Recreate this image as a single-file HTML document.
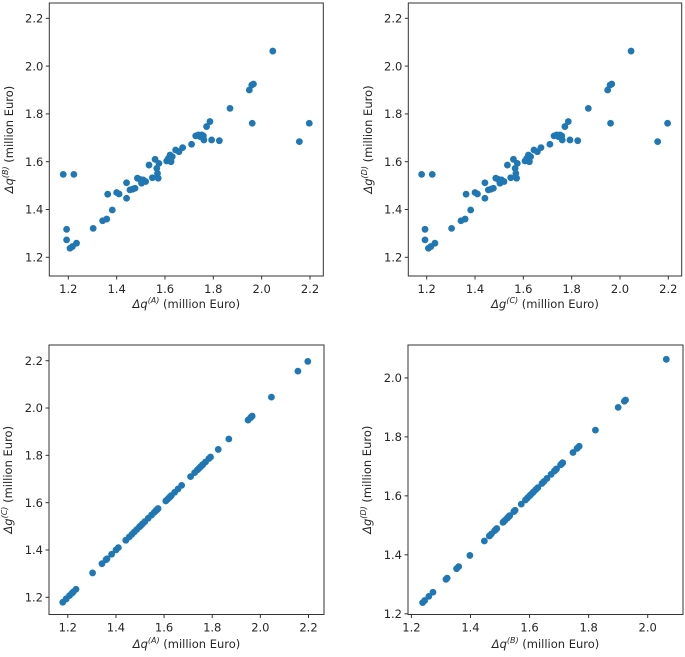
<!DOCTYPE html>
<html><head><meta charset="utf-8"><style>
html,body{margin:0;padding:0;background:#fff}
svg{display:block}
text{font-family:"DejaVu Sans","Liberation Sans",sans-serif;fill:#262626}
</style></head><body>
<svg id="fig" width="685" height="657" viewBox="0 0 685 657" xmlns="http://www.w3.org/2000/svg"></svg>
<script>
const seriesA=[1.179,1.223,1.193,1.193,1.207,1.217,1.234,1.303,1.342,1.359,1.363,1.382,1.4,1.41,1.441,1.441,1.455,1.466,1.476,1.486,1.497,1.503,1.51,1.52,1.534,1.548,1.559,1.566,1.569,1.572,1.575,1.607,1.614,1.621,1.625,1.63,1.644,1.658,1.673,1.71,1.727,1.738,1.745,1.752,1.759,1.761,1.772,1.786,1.793,1.825,1.869,1.949,1.959,1.966,1.961,2.046,2.156,2.197];
const seriesB=[1.547,1.547,1.317,1.273,1.238,1.245,1.259,1.321,1.353,1.36,1.464,1.398,1.471,1.465,1.512,1.447,1.482,1.485,1.489,1.531,1.526,1.51,1.524,1.517,1.586,1.533,1.61,1.572,1.551,1.531,1.593,1.603,1.614,1.628,1.6,1.621,1.649,1.642,1.659,1.673,1.708,1.712,1.705,1.712,1.708,1.691,1.747,1.768,1.691,1.688,1.823,1.9,1.921,1.925,1.761,2.063,1.684,1.761];
const seriesC=seriesA.slice();
const seriesD=seriesB.slice();
const ticksWide=[1.2,1.4,1.6,1.8,2.0,2.2];
const ticksNarrow=[1.2,1.4,1.6,1.8,2.0];

const NS="http://www.w3.org/2000/svg";
const svg=document.getElementById('fig');
function mk(tag,attrs,parent){const e=document.createElementNS(NS,tag);for(const k in attrs)e.setAttribute(k,attrs[k]);(parent||svg).appendChild(e);return e;}

const panels=[
 {id:'top-left',xs:seriesA,ys:seriesB,frame:[49.3,3,323.3,276],xr:[1.2,68.3,2.2,310],yr:[1.2,257.3,2.2,18.3],xt:ticksWide,yt:ticksWide,xl:['Δq','(A)'],yl:['Δq','(B)'],xlY:308,ylX:13},
 {id:'top-right',xs:seriesC,ys:seriesD,frame:[408.3,3,681.7,276],xr:[1.2,426.7,2.2,668.3],yr:[1.2,257.3,2.2,18.3],xt:ticksWide,yt:ticksWide,xl:['Δg','(C)'],yl:['Δg','(D)'],xlY:308,ylX:372},
 {id:'bottom-left',xs:seriesA,ys:seriesC,frame:[49,345,324,614.5],xr:[1.2,67.8,2.2,308.5],yr:[1.2,597.3,2.2,360.7],xt:ticksWide,yt:ticksWide,xl:['Δq','(A)'],yl:['Δg','(C)'],xlY:648,ylX:12},
 {id:'bottom-right',xs:seriesB,ys:seriesD,frame:[408,345,683,614.5],xr:[1.2,411.4,2.0,647.7],yr:[1.2,613.8,2.0,377.9],xt:ticksNarrow,yt:ticksNarrow,xl:['Δq','(B)'],yl:['Δg','(D)'],xlY:648,ylX:371}
];

panels.forEach(p=>{
 const g=mk('g',{});
 
 
 const sx=v=>p.xr[1]+(v-p.xr[0])*(p.xr[3]-p.xr[1])/(p.xr[2]-p.xr[0]);
 const sy=v=>p.yr[1]+(v-p.yr[0])*(p.yr[3]-p.yr[1])/(p.yr[2]-p.yr[0]);
 const [l,t,r,b]=p.frame;
 p.xs.forEach((v,i)=>{
  const c=mk('circle',{cx:sx(v),cy:sy(p.ys[i]),r:3.4,fill:'#1f77b4'},g);
  
  
 });
 const fr=mk('rect',{x:l,y:t,width:r-l,height:b-t,fill:'none',stroke:'#333',"stroke-width":1},g);
 
 
 p.xt.forEach(v=>{
  const x=sx(v);
  mk('line',{x1:x,x2:x,y1:b,y2:b+3.5,stroke:'#333'},g);
  const tx=mk('text',{x:x,y:b+17,"text-anchor":'middle',"font-size":11.5},g);
  tx.textContent=v.toFixed(1);
  
  
 });
 p.yt.forEach(v=>{
  const y=sy(v);
  mk('line',{x1:l-3.5,x2:l,y1:y,y2:y,stroke:'#333'},g);
  const tx=mk('text',{x:l-6,y:y+4.2,"text-anchor":'end',"font-size":11.5},g);
  tx.textContent=v.toFixed(1);
  
  
 });
 const xl=mk('text',{x:(l+r)/2,y:p.xlY,"text-anchor":'middle',"font-size":11.5},g);
 
 
 xl.innerHTML='<tspan font-style="italic">'+p.xl[0]+'</tspan><tspan font-size="8" dy="-5" font-style="italic">'+p.xl[1]+'</tspan><tspan dy="5"> (million Euro)</tspan>';
 const cy=(t+b)/2;
 const yl=mk('text',{x:p.ylX,y:cy,"text-anchor":'middle',"font-size":11.5,transform:'rotate(-90 '+p.ylX+' '+cy+')'},g);
 
 
 yl.innerHTML='<tspan font-style="italic">'+p.yl[0]+'</tspan><tspan font-size="8" dy="-5" font-style="italic">'+p.yl[1]+'</tspan><tspan dy="5"> (million Euro)</tspan>';
});
</script>
</body></html>
